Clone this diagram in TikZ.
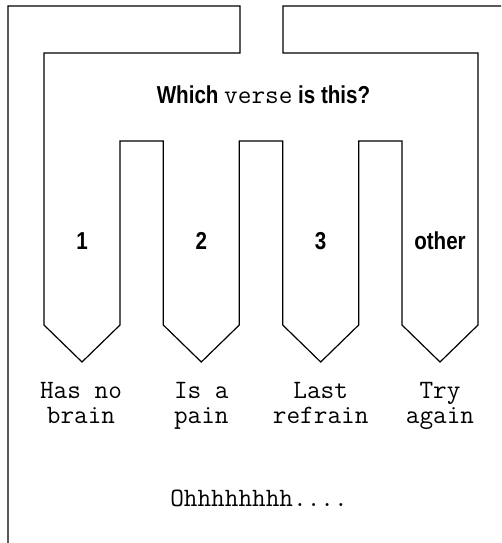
\documentclass[tikz,border=0pt]{standalone}
\usepackage{fontspec}
\newfontfamily\labelfont[FakeStretch=0.84]{Liberation Sans Bold}
\tikzset{
  lbl/.style={font=\labelfont\fontsize{24.5}{28}\selectfont, anchor=base, inner sep=0pt},
  say/.style={font=\ttfamily\fontsize{26.5}{25}\selectfont, align=center, anchor=base, inner sep=0pt}
}
\begin{document}
\begin{tikzpicture}[x=1pt,y=-1pt,line width=1.2pt]
    \useasboundingbox(0,0)rectangle(501,543);
    % frame and switch block
    \draw(501,6)--(283,6)--(283,53)--(478,53)--(478,325)--(440,362)--(402,325)--(402,141)
      --(358.7,141)--(358.7,325)--(320.7,362)--(282.7,325)--(282.7,141)
      --(239.3,141)--(239.3,325)--(201.3,362)--(163.3,325)--(163.3,141)
      --(120,141)--(120,325)--(82,362)--(44,325)--(44,53)--(240,53)--(240,6)--(8,6)--(8,543);
    \node[lbl](ask) at(263.5,103){Which {\ttfamily\fontsize{26.5}{28}\selectfont verse} is this?};
    \node[lbl](one) at(82,249){1};
    \node[lbl](two) at(201.3,249){2};
    \node[lbl](three) at(320.7,249){3};
    \node[lbl](other) at(440,249){other};
    % captions, base is the last line
    \node[say](brain) at(81,423){Has no\\brain};
    \node[say](pain) at(201.3,423){Is a\\pain};
    \node[say](refrain) at(320.7,423){Last\\refrain};
    \node[say](again) at(440,423){Try\\again};
    \node[say](ohh) at(259,506){Ohhhhhhhh....};
\end{tikzpicture}
\end{document}
